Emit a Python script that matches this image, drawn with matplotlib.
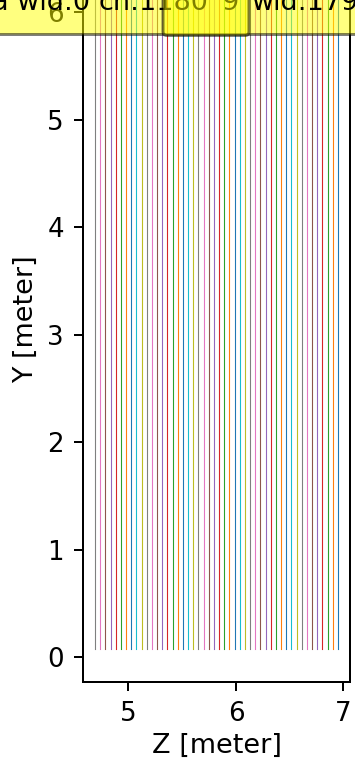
import matplotlib
matplotlib.use("Agg")
import matplotlib.pyplot as plt
from matplotlib.patches import FancyBboxPatch

# wire Z positions (meter), left to right
wire_z = [4.690, 4.738, 4.786, 4.834, 4.882, 4.930, 4.978, 5.026, 5.074, 5.122,
          5.170, 5.218, 5.267, 5.315, 5.363, 5.411, 5.459, 5.507, 5.555, 5.603,
          5.651, 5.699, 5.747, 5.795, 5.843, 5.891, 5.939, 5.987, 6.035, 6.083,
          6.131, 6.179, 6.227, 6.275, 6.323, 6.371, 6.419, 6.468, 6.516, 6.564,
          6.612, 6.660, 6.708, 6.756, 6.804, 6.852, 6.900, 6.948]
wire_y0 = [0.075] * len(wire_z)
wire_y1 = [6.215] * len(wire_z)

x_ticks = [5, 6, 7]
y_ticks = [0, 1, 2, 3, 4, 5, 6]
# pieces of the (clipped) hover annotation text and their left pixel positions
annot_parts = ["a wid:0", "ch:1180", "9", "wid:179"]
annot_x = [-8, 99, 221, 252]

W, H, DPI = 355, 763, 144
fig = plt.figure(figsize=(W / DPI, H / DPI), dpi=DPI)
ax = fig.add_axes([83 / W, (H - 682) / H, (350 - 83) / W, (682 + 44) / H])

# drawn right to left so the colour cycle starts at the rightmost wire
for z, y0, y1 in reversed(list(zip(wire_z, wire_y0, wire_y1))):
    ax.plot([z, z], [y0, y1], lw=0.55)

ax.set_xticks(x_ticks)
ax.set_yticks(y_ticks)
ax.tick_params(labelsize=13, length=4.5, width=1, pad=5)
for s in ax.spines.values():
    s.set_linewidth(1)
ax.set_xlabel("Z [meter]", fontsize=13.5, labelpad=3)
ax.set_ylabel("Y [meter]", fontsize=13.5, labelpad=4)

# hover annotation boxes at the top (partly clipped by figure edge)
fig.patches.append(FancyBboxPatch((-20, H - 34.5), W + 40, 80,
                                  boxstyle="round,pad=0,rounding_size=6",
                                  transform=None, fc="yellow", ec="black", alpha=0.5,
                                  lw=1.5, figure=fig, zorder=1))
for txt, x in zip(annot_parts, annot_x):
    fig.text(x, H - 9.5, txt, transform=None, fontsize=13.5, zorder=2, va="baseline")
fig.patches.append(FancyBboxPatch((163, H - 35.5), 86, 80,
                                  boxstyle="round,pad=0,rounding_size=4",
                                  transform=None, fc="yellow", ec="black", alpha=0.5,
                                  lw=1.5, figure=fig, zorder=3))

fig.savefig("out.png", dpi=DPI)
